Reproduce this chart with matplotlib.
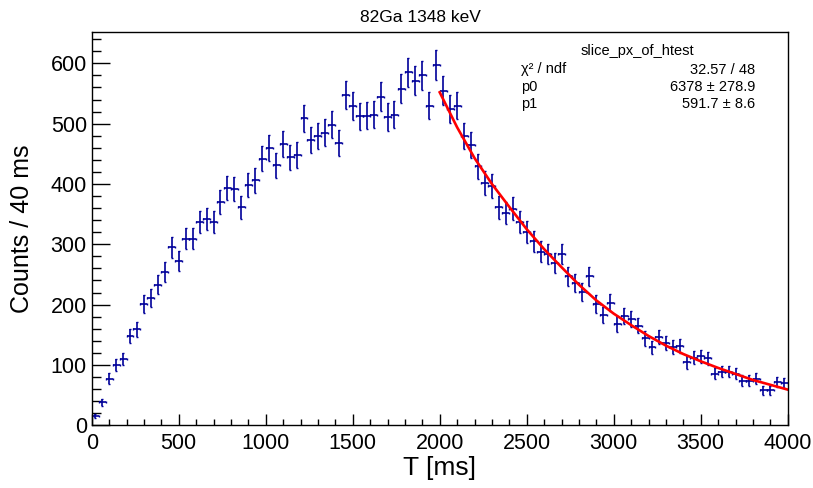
import numpy as np
import matplotlib
matplotlib.use('Agg')
import matplotlib.pyplot as plt
from matplotlib.ticker import MultipleLocator

plt.rcParams['font.family'] = ['Liberation Sans', 'DejaVu Sans']

# histogram: 100 bins of 40 ms from 0 to 4000 ms
t_min, t_max, bin_width = 0, 4000, 40
counts = [15, 38, 77, 99, 110, 148, 159, 201, 211, 233,
          254, 295, 273, 309, 309, 337, 342, 337, 370, 394,
          391, 361, 399, 406, 442, 459, 431, 467, 444, 448,
          509, 473, 480, 485, 498, 468, 548, 529, 512, 513,
          515, 545, 511, 515, 558, 585, 571, 580, 530, 597,
          555, 524, 530, 480, 465, 429, 401, 396, 361, 352,
          359, 337, 320, 305, 288, 284, 269, 284, 247, 236,
          221, 247, 201, 183, 203, 168, 181, 176, 165, 144,
          129, 146, 136, 130, 132, 104, 112, 114, 111, 85,
          89, 89, 85, 74, 74, 77, 58, 58, 71, 70]

# fit curve as drawn
fit_t = [2000, 2100, 2200, 2300, 2400, 2500, 2600, 2700, 2800, 2900, 3000,
         3100, 3200, 3300, 3400, 3500, 3600, 3700, 3800, 3900, 4000]
fit_y = [552, 494, 443, 400, 362, 325, 292, 262, 233, 207, 185,
         166, 148, 132, 118, 106, 95, 85, 75, 67, 59]

stats_title = 'slice_px_of_htest'
stats_names = ['\u03c7\u00b2 / ndf', 'p0', 'p1']
stats_values = ['32.57 / 48', '6378 \u00b1 278.9', '591.7 \u00b1 8.6']

edges = np.arange(t_min, t_max + bin_width, bin_width)
centers = edges[:-1] + bin_width / 2
counts = np.array(counts)

fig = plt.figure(figsize=(8.13, 4.88), dpi=100)
ax = fig.add_axes([0.1128, 0.1287, 0.8561, 0.8057])

ax.errorbar(centers, counts, xerr=bin_width / 2, yerr=np.sqrt(counts),
            fmt='none', ecolor='#000099', elinewidth=1.2, capsize=1.0, capthick=1.0)
ax.plot(fit_t, fit_y, color='#ff0000', lw=1.9)

ax.set_xlim(t_min, t_max)
ax.set_ylim(0, 652)
ax.xaxis.set_major_locator(MultipleLocator(500))
ax.xaxis.set_minor_locator(MultipleLocator(100))
ax.yaxis.set_major_locator(MultipleLocator(100))
ax.yaxis.set_minor_locator(MultipleLocator(20))
ax.tick_params(axis='both', which='both', direction='in', labelsize=15.5,
               top=False, right=False, width=1.0)
ax.tick_params(axis='x', which='major', length=8, pad=5.5)
ax.tick_params(axis='x', which='minor', length=4)
ax.tick_params(axis='y', which='major', length=13, pad=3.5)
ax.tick_params(axis='y', which='minor', length=6.5)
for sp in ax.spines.values():
    sp.set_linewidth(1.0)

fig.text(439.7 / 813, 1 - 468 / 488, 'T [ms]', ha='center', va='center', fontsize=19)
fig.text(22 / 813, 1 - 228.6 / 488, 'Counts / 40 ms', ha='center', va='center',
         rotation=90, fontsize=18)
fig.text(420 / 813, 1 - 17 / 488, '82Ga 1348 keV', ha='center', va='center', fontsize=12.5)

# stats box text
fig.text(637.5 / 813, 1 - 51 / 488, stats_title, ha='center', va='center', fontsize=10.5)
for i, (name, val) in enumerate(zip(stats_names, stats_values)):
    y = 1 - (69.5 + 17.2 * i) / 488
    fig.text(521 / 813, y, name, ha='left', va='center', fontsize=10.5)
    fig.text(755.5 / 813, y, val, ha='right', va='center', fontsize=10.5)

fig.savefig('out.png', dpi=100)
